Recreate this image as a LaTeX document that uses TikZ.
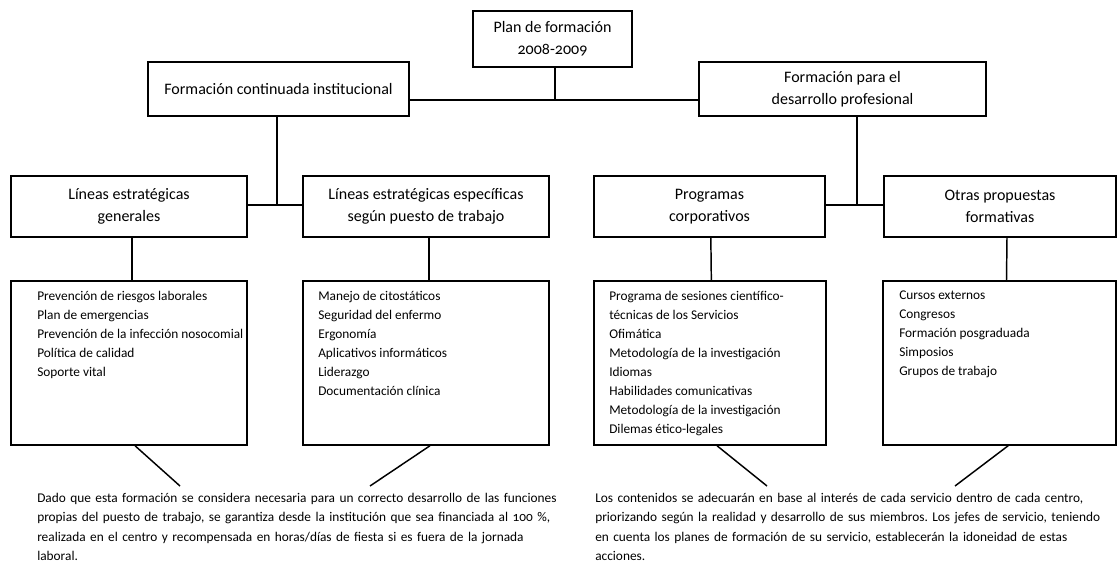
\documentclass[tikz,border=0pt]{standalone}
\usepackage{fontspec}
\setmainfont{Carlito}[Numbers=OldStyle]
\frenchspacing
\begin{document}
\begin{tikzpicture}[x=0.75pt,y=-0.75pt,
  box/.style={draw,line width=1.1pt,rectangle,inner sep=0pt},
  title/.style={box,align=center,font=\fontsize{12}{16.5}\selectfont},
  listbox/.style={box},
  listtext/.style={anchor=north west,inner sep=0pt,align=left,font=\fontsize{10}{14.25}\selectfont},
  para/.style={anchor=north west,inner sep=0pt,align=left,font=\fontsize{10}{14.5}\selectfont},
  conn/.style={line width=1.1pt}]
\useasboundingbox (0,0) rectangle (1118,564);
% level 0/1
\node[title,minimum width=119.25pt,minimum height=42pt] (plan) at (552.5,39) {Plan de formación\\2008-2009};
\node[title,minimum width=195.75pt,minimum height=40.5pt] (fci) at (278.5,89) {Formación continuada institucional};
\node[title,minimum width=215.25pt,minimum height=40.5pt] (fdp) at (842.5,89) {Formación para el\\desarrollo profesional};
% level 2
\node[title,minimum width=177pt,minimum height=45.75pt] (leg) at (129,206.5) {Líneas estratégicas\\generales};
\node[title,minimum width=184.5pt,minimum height=45.75pt] (lee) at (426,206.5) {Líneas estratégicas específicas\\según puesto de trabajo};
\node[title,minimum width=173.25pt,minimum height=45.75pt] (pc) at (709.5,206.5) {Programas\\corporativos};
\node[title,minimum width=174pt,minimum height=45.75pt] (opf) at (1000,206.5) {Otras propuestas\\formativas};
% level 3
\node[listbox,minimum width=177pt,minimum height=123pt] (l1) at (129,363) {};
\node[listbox,minimum width=184.5pt,minimum height=123pt] (l2) at (426,363) {};
\node[listbox,minimum width=174pt,minimum height=123pt] (l3) at (710,363) {};
\node[listbox,minimum width=174.75pt,minimum height=123pt] (l4) at (999.5,363) {};
\node[listtext] (t1) at (37,291) {Prevención de riesgos laborales\\Plan de emergencias\\Prevención de la infección nosocomial\\Política de calidad\\Soporte vital};
\node[listtext] (t2) at (318,291) {Manejo de citostáticos\\Seguridad del enfermo\\Ergonomía\\Aplicativos informáticos\\Liderazgo\\Documentación clínica};
\node[listtext] (t3) at (609,291) {Programa de sesiones científico-\\técnicas de los Servicios\\Ofimática\\Metodología de la investigación\\Idiomas\\Habilidades comunicativas\\Metodología de la investigación\\Dilemas ético-legales};
\node[listtext] (t4) at (899,291) {Cursos externos\\Congresos\\Formación posgraduada\\Simposios\\Grupos de trabajo};
% paragraphs
\node[para,text width=386pt] (p1) at (37,493) {%
\makebox[\linewidth][s]{Dado que esta formación se considera necesaria para un correcto desarrollo de las funciones}\\
\makebox[\linewidth][s]{propias del puesto de trabajo, se garantiza desde la institución que sea financiada al 100 \%,}\\
\makebox[\linewidth][s]{realizada en el centro y recompensada en horas/días de fiesta si es fuera de la jornada}\\
laboral.};
\node[para,text width=388pt] (p2) at (595,493) {%
\makebox[\linewidth][s]{Los contenidos se adecuarán en base al interés de cada servicio dentro de cada centro,}\\
\makebox[\linewidth][s]{priorizando según la realidad y desarrollo de sus miembros. Los jefes de servicio, teniendo}\\
\makebox[\linewidth][s]{en cuenta los planes de formación de su servicio, establecerán la idoneidad de estas}\\
acciones.};
% connectors
\coordinate (j1) at (555,100);
\draw[conn] (plan.south -| j1) -- (j1);
\draw[conn] (fci.east |- j1) -- (fdp.west |- j1);
\coordinate (j2) at (277,205);
\draw[conn] (fci.south -| j2) -- (j2);
\draw[conn] (leg.east |- j2) -- (lee.west |- j2);
\coordinate (j3) at (857,205);
\draw[conn] (fdp.south -| j3) -- (j3);
\draw[conn] (pc.east |- j3) -- (opf.west |- j3);
\draw[conn] ([xshift=2.25pt]leg.south) -- ([xshift=2.25pt]l1.north);
\draw[conn] ([xshift=2.25pt]lee.south) -- ([xshift=2.25pt]l2.north);
\draw[conn] ([xshift=1pt]pc.south) -- ([xshift=1pt]l3.north);
\draw[conn] ([xshift=5.25pt]opf.south) -- ([xshift=5.25pt]l4.north);
\coordinate (e1) at (180,486);
\coordinate (e2) at (370,486);
\coordinate (e3) at (767,486);
\coordinate (e4) at (955,486);
\draw[conn] ([xshift=4.5pt]l1.south) -- (e1);
\draw[conn] ([xshift=3pt]l2.south) -- (e2);
\draw[conn] ([xshift=5.25pt]l3.south) -- (e3);
\draw[conn] ([xshift=6.5pt]l4.south) -- (e4);
\end{tikzpicture}
\end{document}
